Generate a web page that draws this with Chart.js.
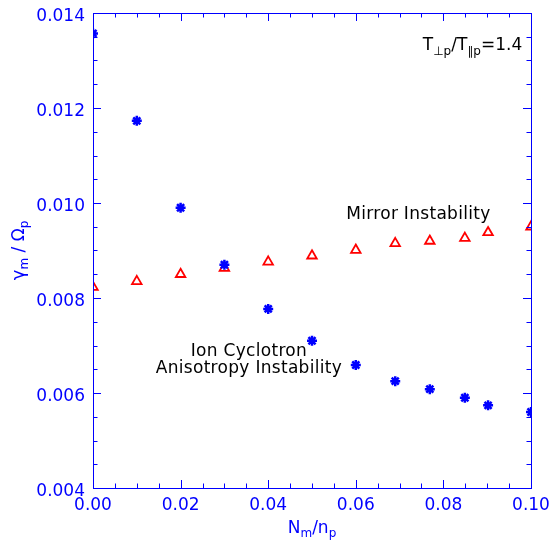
<!DOCTYPE html>
<html>
<head>
<meta charset="utf-8">
<script src="https://cdn.jsdelivr.net/npm/chart.js@4/dist/chart.umd.min.js"></script>
<style>
  html, body { margin: 0; padding: 0; background: #fff; }
  #wrap { width: 551px; height: 541px; }
</style>
</head>
<body>
<div id="wrap"><canvas id="c" width="551" height="541"></canvas></div>
<script>
// ---- data ----
const ratio = [0.000, 0.010, 0.020, 0.030, 0.040, 0.050, 0.060, 0.069, 0.0769, 0.0849, 0.0902, 0.100];
const icGrowth = [0.01357, 0.01173, 0.00990, 0.00870, 0.00777, 0.00710, 0.00659, 0.00625, 0.00608, 0.00590, 0.00574, 0.00560];
const mirrorGrowth = [0.00823, 0.00835, 0.00850, 0.00863, 0.00876, 0.00889, 0.00901, 0.00915, 0.00920, 0.00926, 0.00938, 0.00950];
const xTicks = [0.00, 0.02, 0.04, 0.06, 0.08, 0.10];
const yTicks = [0.004, 0.006, 0.008, 0.010, 0.012, 0.014];
const xTickLabels = ['0.00', '0.02', '0.04', '0.06', '0.08', '0.10'];
const yTickLabels = ['0.004', '0.006', '0.008', '0.010', '0.012', '0.014'];
const xMinorStep = 0.005;
const yMinorStep = 0.0005;

const BLUE = '#0000ff';
const RED = '#ff0000';
const FONT = '"DejaVu Sans", sans-serif';

const toPts = (xs, ys) => xs.map((x, i) => ({ x: x, y: ys[i] }));

const decor = {
  id: 'decor',
  afterDraw(chart) {
    const ctx = chart.ctx;
    const a = chart.chartArea;
    const xs = chart.scales.x, ys = chart.scales.y;
    ctx.save();
    // frame
    ctx.strokeStyle = BLUE;
    ctx.lineWidth = 1;
    ctx.strokeRect(Math.round(a.left) + 0.5, Math.round(a.top) + 0.5,
                   Math.round(a.right - a.left), Math.round(a.bottom - a.top));
    // ticks (inward) on all four sides
    const nx = Math.round((xs.max - xs.min) / xMinorStep);
    for (let i = 0; i <= nx; i++) {
      const v = xs.min + i * xMinorStep;
      const px = Math.round(xs.getPixelForValue(v)) + 0.5;
      const major = xTicks.some(t => Math.abs(t - v) < 1e-9);
      const len = major ? 8 : 4.5;
      ctx.beginPath();
      ctx.moveTo(px, a.bottom); ctx.lineTo(px, a.bottom - len);
      ctx.moveTo(px, a.top); ctx.lineTo(px, a.top + len);
      ctx.stroke();
    }
    const ny = Math.round((ys.max - ys.min) / yMinorStep);
    for (let i = 0; i <= ny; i++) {
      const v = ys.min + i * yMinorStep;
      const py = Math.round(ys.getPixelForValue(v)) + 0.5;
      const major = yTicks.some(t => Math.abs(t - v) < 1e-9);
      const len = major ? 8 : 4.5;
      ctx.beginPath();
      ctx.moveTo(a.left, py); ctx.lineTo(a.left + len, py);
      ctx.moveTo(a.right, py); ctx.lineTo(a.right - len, py);
      ctx.stroke();
    }

    // tick labels
    ctx.fillStyle = BLUE;
    ctx.font = '17px ' + FONT;
    ctx.textBaseline = 'alphabetic';
    ctx.textAlign = 'center';
    xTicks.forEach((v, i) => {
      ctx.fillText(xTickLabels[i], xs.getPixelForValue(v), a.bottom + 22);
    });
    ctx.textAlign = 'right';
    yTicks.forEach((v, i) => {
      ctx.fillText(yTickLabels[i], a.left - 8, ys.getPixelForValue(v) + 7.5);
    });

    // annotations
    ctx.fillStyle = '#000';
    ctx.font = '17px ' + FONT;
    ctx.letterSpacing = '0.3px';
    ctx.textAlign = 'center';
    ctx.fillText('Mirror Instability', xs.getPixelForValue(0.0743), ys.getPixelForValue(0.00966));
    ctx.fillText('Ion Cyclotron', xs.getPixelForValue(0.0356), ys.getPixelForValue(0.00678));
    ctx.fillText('Anisotropy Instability', xs.getPixelForValue(0.0356), ys.getPixelForValue(0.00642));
    ctx.letterSpacing = '0px';

    // T_perp p / T_par p = 1.4 (right aligned)
    const parts = [
      ['T', 17, 0], ['\u22A5p', 12, 5], ['/T', 17, 0], ['\u2225p', 12, 5], ['=1.4', 17, 0]
    ];
    let total = 0;
    parts.forEach(p => { ctx.font = p[1] + 'px ' + FONT; total += ctx.measureText(p[0]).width; });
    let tx = xs.getPixelForValue(0.098) - total;
    const tby = ys.getPixelForValue(0.01322);
    ctx.textAlign = 'left';
    parts.forEach(p => {
      ctx.font = p[1] + 'px ' + FONT;
      ctx.fillText(p[0], tx, tby + p[2]);
      tx += ctx.measureText(p[0]).width;
    });

    // x axis title N_m / n_p
    ctx.fillStyle = BLUE;
    const xt = [['N', 17, 0], ['m', 12, 4], ['/n', 17, 0], ['p', 12, 4]];
    total = 0;
    xt.forEach(p => { ctx.font = p[1] + 'px ' + FONT; total += ctx.measureText(p[0]).width; });
    tx = (a.left + a.right) / 2 - total / 2;
    xt.forEach(p => {
      ctx.font = p[1] + 'px ' + FONT;
      ctx.fillText(p[0], tx, 533 + p[2]);
      tx += ctx.measureText(p[0]).width;
    });

    // y axis title gamma_m / Omega_p (rotated)
    const yt = [['\u03B3', 18, 0], ['m', 12, 4], [' / ', 17, 0], ['\u03A9', 17, 0], ['p', 12, 4]];
    total = 0;
    yt.forEach(p => { ctx.font = p[1] + 'px ' + FONT; total += ctx.measureText(p[0]).width; });
    ctx.translate(24, (a.top + a.bottom) / 2);
    ctx.rotate(-Math.PI / 2);
    tx = -total / 2;
    yt.forEach(p => {
      ctx.font = p[1] + 'px ' + FONT;
      ctx.fillText(p[0], tx, p[2]);
      tx += ctx.measureText(p[0]).width;
    });
    ctx.restore();
  }
};

new Chart(document.getElementById('c'), {
  type: 'scatter',
  data: {
    datasets: [
      {
        label: 'Ion Cyclotron Anisotropy Instability',
        data: toPts(ratio, icGrowth),
        pointStyle: 'star',
        radius: 5,
        borderWidth: 2.5,
        borderColor: BLUE,
        backgroundColor: BLUE,
        clip: 0
      },
      {
        label: 'Mirror Instability',
        data: toPts(ratio, mirrorGrowth),
        pointStyle: 'triangle',
        radius: 5.5,
        borderWidth: 1.8,
        borderColor: RED,
        backgroundColor: 'rgba(0,0,0,0)',
        clip: 0
      }
    ]
  },
  options: {
    responsive: false,
    animation: false,
    devicePixelRatio: 1,
    layout: { padding: { left: 0, top: 13, right: 20, bottom: 0 } },
    plugins: { legend: { display: false }, tooltip: { enabled: false } },
    scales: {
      x: {
        type: 'linear', min: 0, max: 0.1,
        afterBuildTicks: s => { s.ticks = xTicks.map(v => ({ value: v })); },
        afterFit: s => { s.height = 53; },
        grid: { display: false, drawTicks: false },
        border: { display: false },
        ticks: { display: false }
      },
      y: {
        type: 'linear', min: 0.004, max: 0.014,
        afterBuildTicks: s => { s.ticks = yTicks.map(v => ({ value: v })); },
        afterFit: s => { s.width = 93; },
        grid: { display: false, drawTicks: false },
        border: { display: false },
        ticks: { display: false }
      }
    }
  },
  plugins: [decor]
});
</script>
</body>
</html>
